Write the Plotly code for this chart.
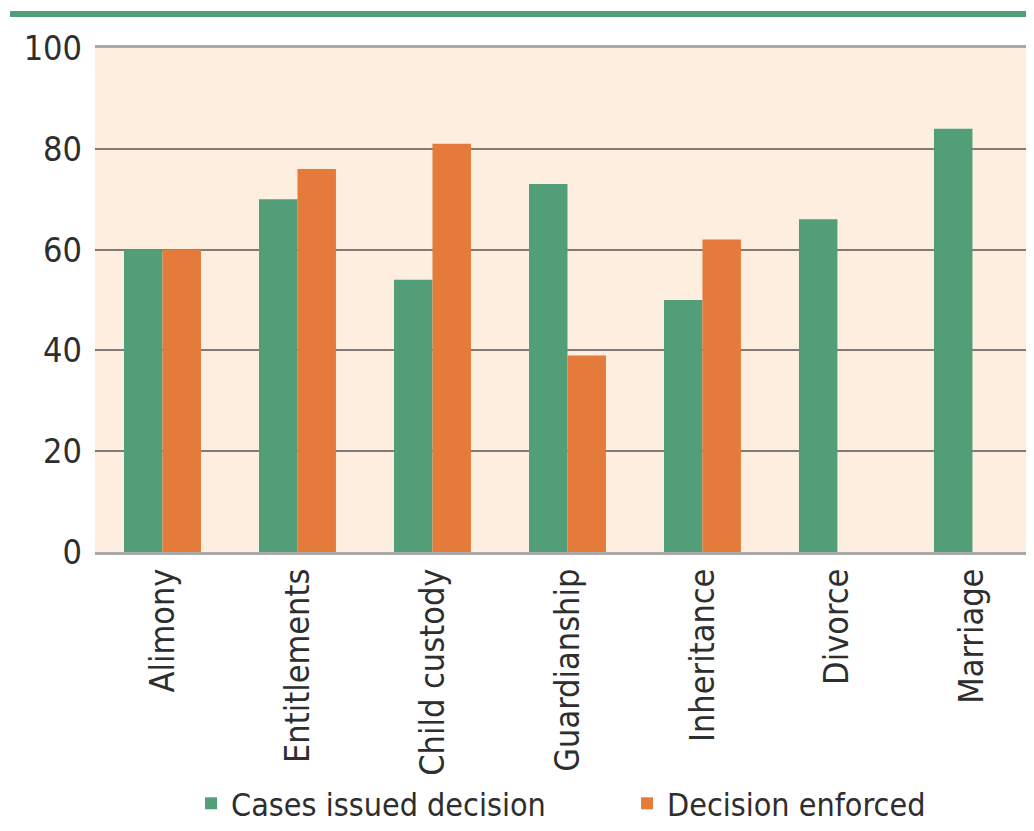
import plotly.graph_objects as go

categories = ["Alimony", "Entitlements", "Child custody", "Guardianship", "Inheritance", "Divorce", "Marriage"]
cases_issued = [60, 70, 54, 73, 50, 66, 84]
decision_enforced = [60, 76, 81, 39, 62, None, None]
y_ticks = [0, 20, 40, 60, 80, 100]

GREEN = "#519E79"
ORANGE = "#E57B3A"
FONT = "DejaVu Sans Condensed, Liberation Sans Narrow, sans-serif"

fig = go.Figure()
fig.add_trace(go.Bar(x=categories, y=cases_issued, name="Cases issued decision",
                     marker=dict(color=GREEN, line=dict(width=0)), legend="legend"))
fig.add_trace(go.Bar(x=categories, y=decision_enforced, name="Decision enforced",
                     marker=dict(color=ORANGE, line=dict(width=0)), legend="legend2"))

legend_style = dict(orientation="h", xanchor="left", y=-0.5536, yanchor="bottom",
                    font=dict(family=FONT, size=32, color="#2E2E2E"),
                    itemsizing="constant", bgcolor="rgba(0,0,0,0)")

fig.update_layout(
    width=1026, height=823,
    margin=dict(l=87, r=0, t=40, b=279),
    paper_bgcolor="white",
    plot_bgcolor="#FDEEDF",
    barmode="group",
    bargap=0.43,
    bargroupgap=0,
    font=dict(family=FONT, size=34, color="#2E2E2E"),
    showlegend=True,
    legend=dict(x=0.1023, **legend_style),
    legend2=dict(x=0.5666, **legend_style),
    shapes=[dict(type="line", xref="paper", yref="paper", x0=-0.0905, x1=1.0,
                 y0=1.0674, y1=1.0674, line=dict(color=GREEN, width=6))],
)
fig.update_xaxes(
    range=[-0.5, 6.456], tickangle=-90, showgrid=False, ticks="",
    showline=True, mirror=True, linecolor="#A8A8A8", linewidth=3,
    tickfont=dict(family=FONT, size=34, color="#2E2E2E"),
)
fig.update_yaxes(
    range=[0, 100], tickvals=y_ticks, showgrid=True, gridcolor="#807B76", gridwidth=2,
    zeroline=False, ticks="", ticklabelstandoff=12,
    tickfont=dict(family=FONT, size=34, color="#2E2E2E"),
)
fig.write_html("out.html")
